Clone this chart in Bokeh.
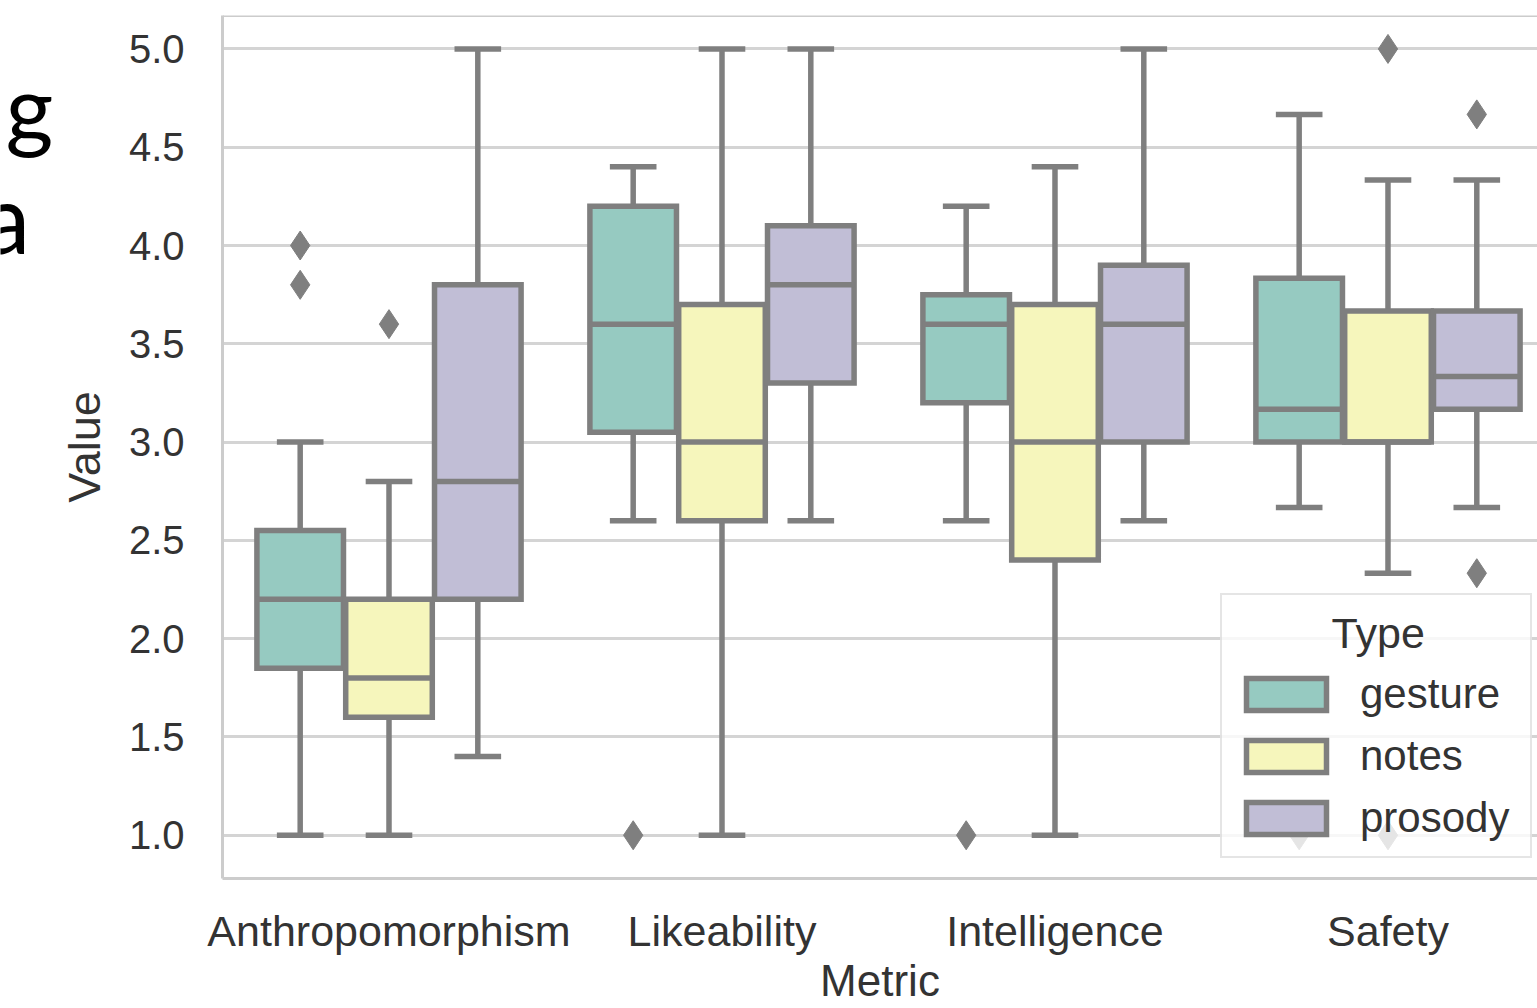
from bokeh.plotting import figure
from bokeh.layouts import row
from bokeh.models import (Range1d, FixedTicker, Legend, LegendItem, Label, Span,
                          ColumnDataSource, NumeralTickFormatter)
from bokeh.embed import file_html
from bokeh.resources import INLINE

# ---------------- data ----------------
metrics = ["Anthropomorphism", "Likeability", "Intelligence", "Safety"]
types = ["gesture", "notes", "prosody"]

gesture_low = [1.0, 2.6, 2.6, 2.667]
gesture_q1 = [1.85, 3.05, 3.2, 3.0]
gesture_med = [2.2, 3.6, 3.6, 3.167]
gesture_q3 = [2.55, 4.2, 3.75, 3.833]
gesture_high = [3.0, 4.4, 4.2, 4.667]

notes_low = [1.0, 1.0, 1.0, 2.333]
notes_q1 = [1.6, 2.6, 2.4, 3.0]
notes_med = [1.8, 3.0, 3.0, 3.0]
notes_q3 = [2.2, 3.7, 3.7, 3.667]
notes_high = [2.8, 5.0, 4.4, 4.333]

prosody_low = [1.4, 2.6, 2.6, 2.667]
prosody_q1 = [2.2, 3.3, 3.0, 3.167]
prosody_med = [2.8, 3.8, 3.6, 3.333]
prosody_q3 = [3.8, 4.1, 3.9, 3.667]
prosody_high = [5.0, 5.0, 5.0, 4.333]

gesture_out_metric = ["Anthropomorphism", "Anthropomorphism", "Likeability", "Intelligence", "Safety"]
gesture_out_value = [4.0, 3.8, 1.0, 1.0, 1.0]
notes_out_metric = ["Anthropomorphism", "Safety", "Safety"]
notes_out_value = [3.6, 5.0, 1.0]
prosody_out_metric = ["Safety", "Safety"]
prosody_out_value = [4.667, 2.333]

y_ticks = [1.0, 1.5, 2.0, 2.5, 3.0, 3.5, 4.0, 4.5, 5.0]

# ---------------- style ----------------
colors = {"gesture": "#96cac1", "notes": "#f6f6bc", "prosody": "#c1bed6"}
edge = "#7f7f7f"
text_col = "#333333"
FONT = "Liberation Sans"
box_w = 0.26
cap_w = 0.14
dodge = {"gesture": -0.2667, "notes": 0.0, "prosody": 0.2667}
lw = 5.5

stats = {
    "gesture": (gesture_low, gesture_q1, gesture_med, gesture_q3, gesture_high,
                gesture_out_metric, gesture_out_value),
    "notes": (notes_low, notes_q1, notes_med, notes_q3, notes_high,
              notes_out_metric, notes_out_value),
    "prosody": (prosody_low, prosody_q1, prosody_med, prosody_q3, prosody_high,
                prosody_out_metric, prosody_out_value),
}

LEFT_W = 55
W, H = 1537, 1008

# -------- left strip: fragments of surrounding slide text --------
side = figure(width=LEFT_W, height=H, x_range=Range1d(0, LEFT_W), y_range=Range1d(0, H),
              x_axis_type=None, y_axis_type=None, output_backend="svg",
              toolbar_location=None, min_border=0)
side.outline_line_color = None
side.xgrid.visible = False
side.ygrid.visible = False
side.add_layout(Label(x=5, y=H - 105, text="g",
                      text_font="Lato", text_font_size="92px", text_color="black",
                      text_baseline="alphabetic"))
side.add_layout(Label(x=-18, y=H - 235, text="a",
                      text_font="Lato", text_font_size="96px", text_color="black",
                      text_baseline="alphabetic"))

# -------- main chart --------
p = figure(width=W - LEFT_W, height=H,
           x_range=Range1d(-0.5, 3.449), y_range=Range1d(0.78, 5.17),
           output_backend="svg", toolbar_location=None,
           min_border_left=222 - LEFT_W, min_border_top=15, min_border_right=0,
           min_border_bottom=130)
p.outline_line_color = None
p.background_fill_color = "white"

box_renderers = {}
for t in types:
    low, q1, med, q3, high, om, ov = stats[t]
    xs = [i + dodge[t] for i in range(len(metrics))]
    src = ColumnDataSource(dict(
        x=xs, low=low, q1=q1, med=med, q3=q3, high=high,
        x0=[x - box_w / 2 for x in xs], x1=[x + box_w / 2 for x in xs],
        c0=[x - cap_w / 2 for x in xs], c1=[x + cap_w / 2 for x in xs],
    ))
    p.segment(x0="x", y0="q3", x1="x", y1="high", source=src, line_color=edge, line_width=lw)
    p.segment(x0="x", y0="q1", x1="x", y1="low", source=src, line_color=edge, line_width=lw)
    p.segment(x0="c0", y0="high", x1="c1", y1="high", source=src, line_color=edge, line_width=lw)
    p.segment(x0="c0", y0="low", x1="c1", y1="low", source=src, line_color=edge, line_width=lw)
    r = p.vbar(x="x", width=box_w, bottom="q1", top="q3", source=src,
               fill_color=colors[t], line_color=edge, line_width=lw, line_join="miter")
    box_renderers[t] = r
    p.segment(x0="x0", y0="med", x1="x1", y1="med", source=src, line_color=edge, line_width=lw)
    osrc = ColumnDataSource(dict(
        x=[metrics.index(m) + dodge[t] for m in om], y=ov))
    p.scatter(x="x", y="y", source=osrc, marker="diamond", size=29,
              fill_color=edge, line_color=edge, line_width=1)

# top border of frame
p.add_layout(Span(location=p.y_range.end, dimension="width",
                  line_color="#cccccc", line_width=3))

# axes
p.xgrid.visible = False
p.ygrid.grid_line_color = "#d4d4d4"
p.ygrid.grid_line_width = 3

p.yaxis.ticker = FixedTicker(ticks=y_ticks)
p.ygrid.ticker = FixedTicker(ticks=y_ticks)
p.yaxis.formatter = NumeralTickFormatter(format="0.0")
p.xaxis.ticker = FixedTicker(ticks=list(range(len(metrics))))
p.xaxis.major_label_overrides = {i: m for i, m in enumerate(metrics)}

for ax in (p.xaxis[0], p.yaxis[0]):
    ax.axis_line_color = "#cccccc"
    ax.axis_line_width = 3
    ax.major_tick_line_color = None
    ax.minor_tick_line_color = None
    ax.major_label_text_font = FONT
    ax.major_label_text_color = text_col
    ax.axis_label_text_font = FONT
    ax.axis_label_text_font_style = "normal"
    ax.axis_label_text_color = text_col

p.yaxis.major_label_text_font_size = "40px"
p.xaxis.major_label_text_font_size = "43px"
p.yaxis.axis_label_text_font_size = "45px"
p.xaxis.axis_label_text_font_size = "44px"

p.yaxis.axis_label = "Value"
p.yaxis.major_label_standoff = 32
p.yaxis.axis_label_standoff = 16
p.xaxis.axis_label = "Metric"
p.xaxis.major_label_standoff = 22
p.xaxis.axis_label_standoff = -2

# legend
items = [LegendItem(label=t, renderers=[box_renderers[t]]) for t in types]
legend = Legend(items=items, location=(998, 20),
                title="\u00a0" * 8 + "Type",
                title_text_font=FONT, title_text_font_size="43px",
                title_text_font_style="normal", title_text_color=text_col,
                title_standoff=12,
                label_text_font=FONT, label_text_font_size="42px",
                label_text_color=text_col,
                glyph_width=100, glyph_height=40, label_standoff=24,
                spacing=14, padding=14, margin=0, label_width=156,
                border_line_color="#cccccc", border_line_width=2,
                background_fill_color="white", background_fill_alpha=0.8)
p.add_layout(legend)

layout = row(side, p, spacing=0)
open("out.html", "w").write(file_html(layout, INLINE))
